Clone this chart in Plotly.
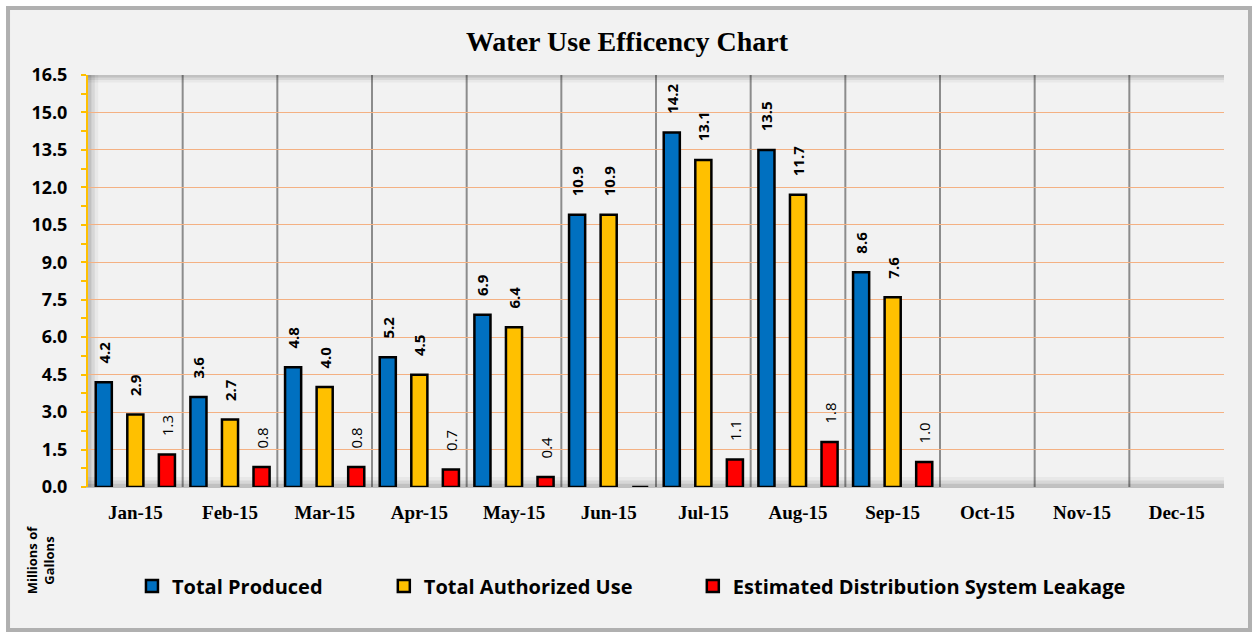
import plotly.graph_objects as go

months = ["Jan-15", "Feb-15", "Mar-15", "Apr-15", "May-15", "Jun-15",
          "Jul-15", "Aug-15", "Sep-15", "Oct-15", "Nov-15", "Dec-15"]
total_produced = [4.2, 3.6, 4.8, 5.2, 6.9, 10.9, 14.2, 13.5, 8.6, None, None, None]
total_authorized = [2.9, 2.7, 4.0, 4.5, 6.4, 10.9, 13.1, 11.7, 7.6, None, None, None]
leakage = [1.3, 0.8, 0.8, 0.7, 0.4, 0.0, 1.1, 1.8, 1.0, None, None, None]
y_ticks = [0.0, 1.5, 3.0, 4.5, 6.0, 7.5, 9.0, 10.5, 12.0, 13.5, 15.0, 16.5]

PAD = "\u00a0" * 4

def labels(vals):
    return ["" if (v is None or v == 0) else PAD + f"{v:.1f}" for v in vals]

SANS = "Open Sans"
SERIF = "Liberation Serif"

fig = go.Figure()
series = [
    ("Total Produced", total_produced, "#0070C0", "bold", "legend", 0.0387),
    ("Total Authorized Use", total_authorized, "#FFC000", "bold", "legend2", 0.2604),
    ("Estimated Distribution System Leakage", leakage, "#FF0000", "normal", "legend3", 0.5324),
]
for name, vals, color, wt, lg, lx in series:
    fig.add_trace(go.Bar(
        name=name, x=months, y=vals, legend=lg,
        marker=dict(color=color, line=dict(color="black", width=2.5)),
        text=labels(vals), textposition="outside", textangle=-90,
        cliponaxis=False, constraintext="none",
        textfont=dict(family=SANS, size=15, color="black", weight=wt),
    ))

shapes = []
# outer frame
shapes.append(dict(type="rect", xref="paper", yref="paper",
                   x0=-0.0704, x1=1.0229, y0=-0.347, y1=1.1626,
                   fillcolor="#F2F2F2", line=dict(color="#B0B0B0", width=4),
                   layer="below"))
# category separators
for i in range(1, 12):
    shapes.append(dict(type="line", xref="x", yref="paper",
                       x0=i - 0.5, x1=i - 0.5, y0=0, y1=1,
                       line=dict(color="#8C8C8C", width=2), layer="below"))
# subtle inner shading
for k, a in enumerate([0.10, 0.07, 0.04]):
    shapes.append(dict(type="rect", xref="paper", yref="paper",
                       x0=0, x1=0.003 * (k + 1), y0=0, y1=1,
                       fillcolor=f"rgba(0,0,0,{a})", line=dict(width=0), layer="below"))
    shapes.append(dict(type="rect", xref="paper", yref="paper",
                       x0=0, x1=1, y0=1 - 0.006 * (k + 1), y1=1,
                       fillcolor=f"rgba(0,0,0,{a})", line=dict(width=0), layer="below"))
    shapes.append(dict(type="rect", xref="paper", yref="paper",
                       x0=0, x1=1, y0=0, y1=0.008 * (k + 1),
                       fillcolor=f"rgba(0,0,0,{a})", line=dict(width=0), layer="below"))

legend_font = dict(family=SANS, size=20, color="black", weight="bold")
def legend_cfg(x):
    return dict(orientation="h", x=x, xanchor="left", y=-0.24, yanchor="middle",
                font=legend_font, bgcolor="rgba(0,0,0,0)")

fig.update_layout(
    width=1254, height=635,
    margin=dict(l=88, r=30, t=75, b=148),
    paper_bgcolor="white", plot_bgcolor="#D9D9D9",
    barmode="group", bargap=0.0, bargroupgap=0.49,
    title=dict(text="<b>Water Use Efficency Chart</b>", x=0.5, xanchor="center",
               y=0.935, yanchor="middle",
               font=dict(family=SERIF, size=28, color="black")),
    shapes=shapes,
    showlegend=True,
    legend=legend_cfg(series[0][5]),
    legend2=legend_cfg(series[1][5]),
    legend3=legend_cfg(series[2][5]),
    annotations=[dict(text="<b>Millions of<br>Gallons</b>", xref="paper", yref="paper",
                      x=-0.041, y=-0.177, textangle=-90, showarrow=False,
                      font=dict(family=SANS, size=13, color="black"),
                      xanchor="center", yanchor="middle")],
)
fig.update_xaxes(
    type="category", showgrid=False, ticks="", ticklabelstandoff=8,
    tickfont=dict(family=SERIF, size=19, color="black", weight="bold"),
    showline=True, linecolor="#BFBFBF", linewidth=1,
    range=[-0.5, 11.5],
)
fig.update_yaxes(
    range=[0, 16.5], tickvals=y_ticks, ticktext=[f"{v:.1f}" for v in y_ticks],
    showgrid=True, gridcolor="#F4B183", gridwidth=1,
    showline=True, linecolor="#FFC000", linewidth=2,
    ticks="outside", ticklen=5, tickcolor="#FFC000", tickwidth=2,
    minor=dict(dtick=0.75, tick0=0, ticks="outside", ticklen=5,
               tickcolor="#FFC000", tickwidth=2, showgrid=False),
    tickfont=dict(family=SANS, size=18, color="black", weight="bold"),
    ticklabelstandoff=10, zeroline=False,
)
fig.write_html("out.html", config={"displayModeBar": False},
               post_script="document.body.style.margin='0';")
